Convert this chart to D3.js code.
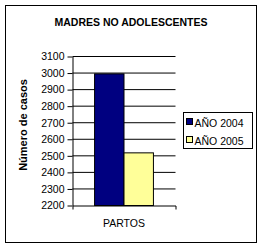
<!DOCTYPE html>
<meta charset="utf-8">
<style>
body { margin: 0; background: #fff; }
text { font-family: "Liberation Sans", Arial, sans-serif; }
.axis path { stroke: #000; }
.axis line { stroke: #000; }
.axis text { font-size: 10.5px; fill: #000; }
</style>
<div id="viz"></div>
<script src="https://d3js.org/d3.v7.min.js"></script>
<script>
var categories = ["PARTOS"];
var series = ["AÑO 2004", "AÑO 2005"];
var values2004 = [2995];
var values2005 = [2518];
var colors = ["#000080", "#ffff99"];
var yTicks = [2200, 2300, 2400, 2500, 2600, 2700, 2800, 2900, 3000, 3100];

var svg = d3.select("#viz").append("svg")
    .attr("width", 264)
    .attr("height", 249);

// outer chart border
svg.append("rect")
    .attr("x", 5.5).attr("y", 5.5)
    .attr("width", 251).attr("height", 237)
    .attr("fill", "#fff").attr("stroke", "#000");

svg.append("text")
    .attr("x", 131).attr("y", 26)
    .attr("text-anchor", "middle")
    .style("font-size", "10.5px").style("font-weight", "bold")
    .text("MADRES NO ADOLESCENTES");

var pLeft = 72.5, pRight = 175.5, pTop = 56.5, pBottom = 205.5;

var x = d3.scaleBand().domain(categories).range([pLeft, pRight]);
var y = d3.scaleLinear().domain([2200, 3100]).range([pBottom, pTop]);

// gridlines
svg.append("g")
    .selectAll("line")
    .data(yTicks.slice(1))
    .enter().append("line")
    .attr("x1", pLeft).attr("x2", pRight)
    .attr("y1", function(d) { return y(d); })
    .attr("y2", function(d) { return y(d); })
    .attr("stroke", "#000");

// bars
var inner = d3.scaleBand().domain(series).range([0, x.bandwidth()]).paddingOuter(0.75);
var rows = [values2004, values2005];
series.forEach(function(s, i) {
    svg.append("g").selectAll("rect")
        .data(rows[i])
        .enter().append("rect")
        .attr("x", function(d, j) { return x(categories[j]) + inner(s); })
        .attr("y", function(d) { return y(d); })
        .attr("width", inner.bandwidth())
        .attr("height", function(d) { return y(2200) - y(d); })
        .attr("fill", colors[i])
        .attr("stroke", "#000");
});

// y axis
svg.append("g")
    .attr("class", "axis")
    .attr("transform", "translate(" + pLeft + ",0)")
    .call(d3.axisLeft(y).tickValues(yTicks).tickSize(5).tickSizeOuter(0).tickPadding(3).tickFormat(d3.format("d")));

// x axis
var xa = svg.append("g")
    .attr("class", "axis")
    .attr("transform", "translate(0," + pBottom + ")")
    .call(d3.axisBottom(x).tickSize(0).tickSizeOuter(4).tickPadding(14));
xa.selectAll(".tick line").remove();

svg.append("text")
    .attr("transform", "translate(27,125) rotate(-90)")
    .attr("text-anchor", "middle")
    .style("font-size", "11px").style("font-weight", "bold")
    .text("Número de casos");

// legend
var lg = svg.append("g").attr("transform", "translate(183.5,112.5)");
lg.append("rect").attr("width", 69).attr("height", 36)
    .attr("fill", "#fff").attr("stroke", "#000");
series.forEach(function(s, i) {
    var g = lg.append("g").attr("transform", "translate(0," + (i * 18) + ")");
    g.append("rect").attr("x", 3).attr("y", 6).attr("width", 6).attr("height", 6)
        .attr("fill", colors[i]).attr("stroke", "#000");
    g.append("text").attr("x", 11).attr("y", 14)
        .style("font-size", "10.5px")
        .text(s);
});
</script>
